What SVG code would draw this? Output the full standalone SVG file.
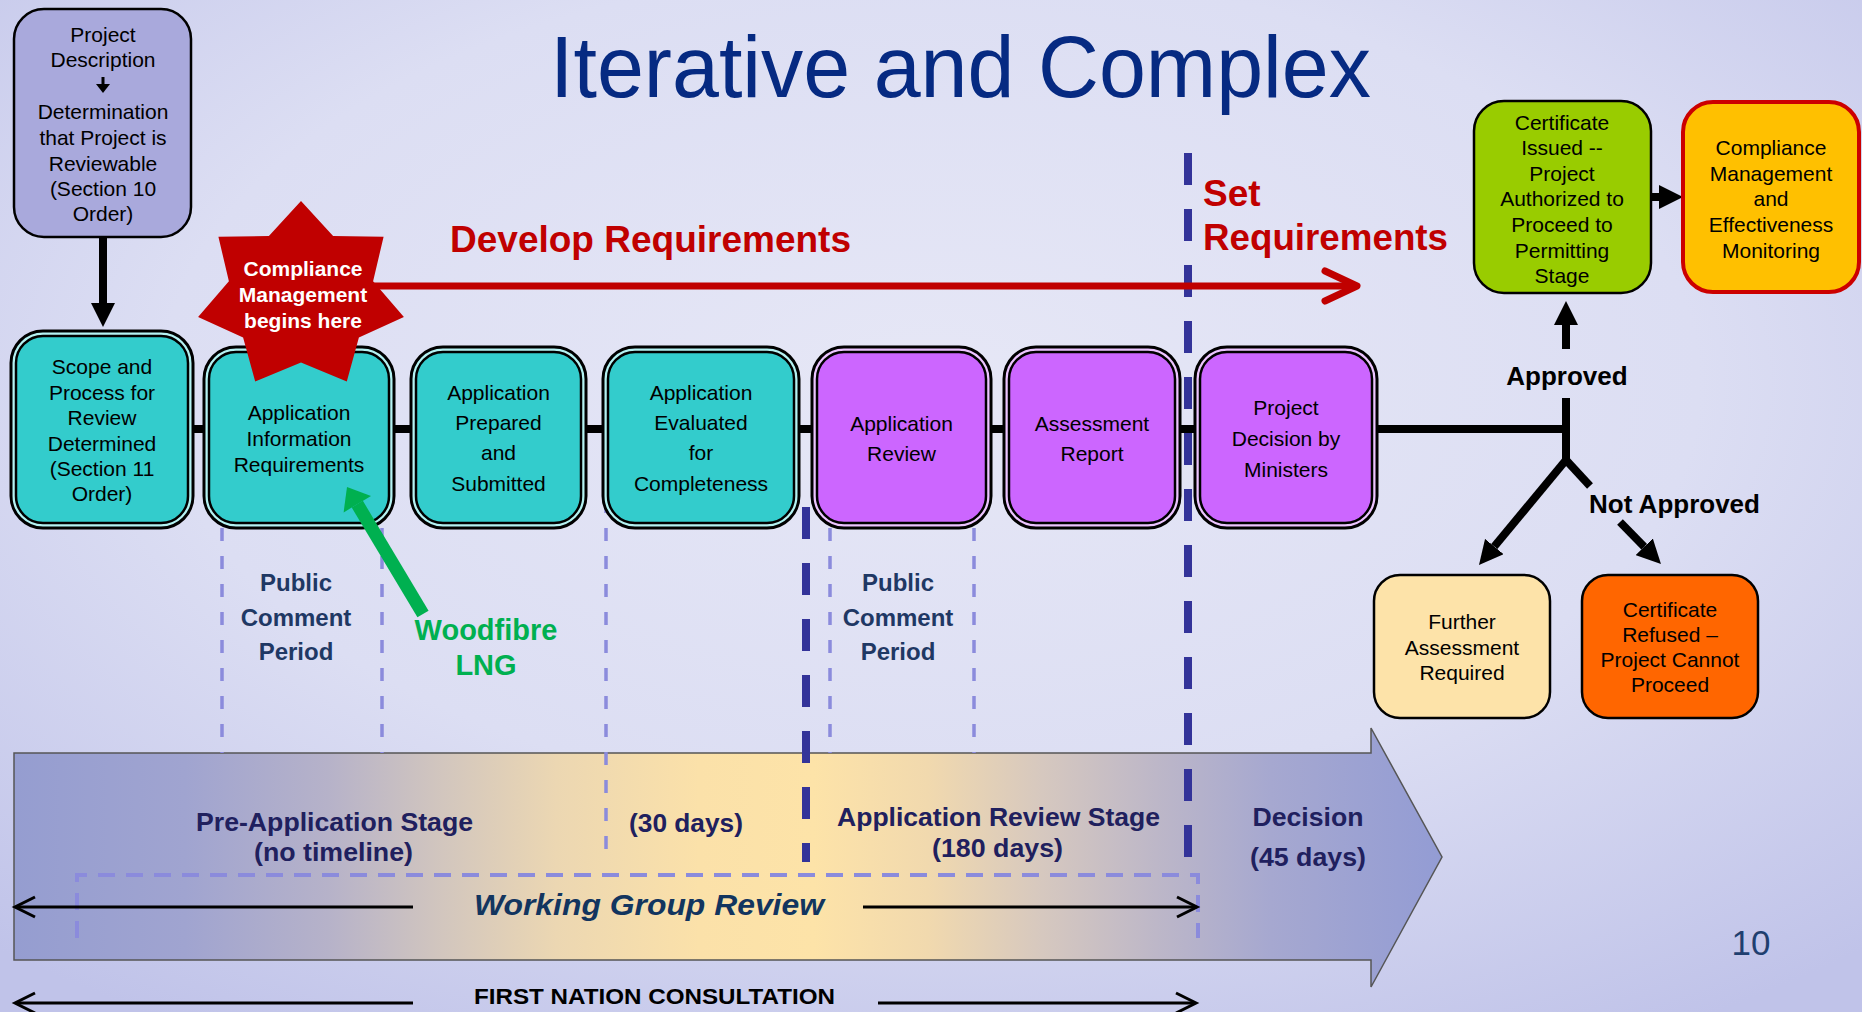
<svg xmlns="http://www.w3.org/2000/svg" width="1862" height="1012" viewBox="0 0 1862 1012">
<defs>
<radialGradient id="bg" cx="0.5" cy="0.38" r="0.75">
<stop offset="0" stop-color="#e6e7f6"/>
<stop offset="0.55" stop-color="#dcdef3"/>
<stop offset="1" stop-color="#c0c3e9"/>
</radialGradient>
<linearGradient id="band" gradientUnits="userSpaceOnUse" x1="14" y1="0" x2="1442" y2="0">
<stop offset="0" stop-color="#959dd0"/>
<stop offset="0.12" stop-color="#a0a4d0"/>
<stop offset="0.22" stop-color="#b6b2c9"/>
<stop offset="0.3" stop-color="#d2c6be"/>
<stop offset="0.38" stop-color="#ecd7b2"/>
<stop offset="0.48" stop-color="#fbe1a9"/>
<stop offset="0.56" stop-color="#fde3a8"/>
<stop offset="0.64" stop-color="#f1d9ae"/>
<stop offset="0.72" stop-color="#d6c8bf"/>
<stop offset="0.8" stop-color="#bdb7c8"/>
<stop offset="0.88" stop-color="#a6a8d0"/>
<stop offset="1" stop-color="#939cd4"/>
</linearGradient>
<marker id="ah" viewBox="0 0 24 24" markerWidth="24" markerHeight="24" refX="0" refY="12" orient="auto" markerUnits="userSpaceOnUse">
<path d="M0,0 L24,12 L0,24 z" fill="#000"/>
</marker>
</defs>
<style>
.f{font-family:"Liberation Sans",Arial,Helvetica,sans-serif}
.bt{font-family:"Liberation Sans",Arial,sans-serif;font-size:21px;fill:#000;text-anchor:middle}
.outer{stroke:#000;stroke-width:3}
.inner{stroke:#000;stroke-width:2.5}
.teal{fill:#33cccc}
.tealr{fill:#b4f2f2}
.purp{fill:#cc66ff}
.purpr{fill:#ecc4ff}
.lite{stroke:#8b8bdc;stroke-width:3.5;stroke-dasharray:13 15;fill:none}
.dark{stroke:#333399;stroke-width:8;stroke-dasharray:32 24;fill:none}
.conn{stroke:#000;stroke-width:8;fill:none}
.thin{stroke:#000;stroke-width:3;fill:none}
.lbl{font-family:"Liberation Sans",Arial,sans-serif;font-weight:bold;font-size:26px;fill:#20205e;text-anchor:middle}
.pcp{font-family:"Liberation Sans",Arial,sans-serif;font-weight:bold;font-size:24px;fill:#1f3864;text-anchor:middle}
.dec{font-family:"Liberation Sans",Arial,sans-serif;font-weight:bold;font-size:26px;fill:#000;text-anchor:middle}
.red{font-family:"Liberation Sans",Arial,sans-serif;font-weight:bold;font-size:37px;fill:#c00000}
</style>

<rect x="0" y="0" width="1862" height="1012" fill="url(#bg)"/>

<text class="f" x="960.5" y="97" font-size="87" fill="#062a82" text-anchor="middle" textLength="821" lengthAdjust="spacingAndGlyphs">Iterative and Complex</text>

<g id="stage-band">
<polygon points="14,753 1371,753 1371,728 1442,857 1371,987 1371,960 14,960" fill="url(#band)" stroke="#555" stroke-width="1.5"/>
<text class="lbl" x="334.5" y="831" textLength="277" lengthAdjust="spacingAndGlyphs">Pre-Application Stage</text>
<text class="lbl" x="333.5" y="861" textLength="159" lengthAdjust="spacingAndGlyphs">(no timeline)</text>
<text class="lbl" x="686" y="832" textLength="114" lengthAdjust="spacingAndGlyphs">(30 days)</text>
<text class="lbl" x="998.5" y="826" textLength="323" lengthAdjust="spacingAndGlyphs">Application Review Stage</text>
<text class="lbl" x="997.5" y="857" textLength="131" lengthAdjust="spacingAndGlyphs">(180 days)</text>
<text class="lbl" x="1308" y="826" textLength="111" lengthAdjust="spacingAndGlyphs">Decision</text>
<text class="lbl" x="1308" y="866" textLength="116" lengthAdjust="spacingAndGlyphs">(45 days)</text>
</g>

<g id="dividers">
<line class="lite" x1="222" y1="528" x2="222" y2="753"/>
<line class="lite" x1="382" y1="528" x2="382" y2="753"/>
<line class="lite" x1="606" y1="500" x2="606" y2="862"/>
<line class="lite" x1="830" y1="528" x2="830" y2="753"/>
<line class="lite" x1="974" y1="528" x2="974" y2="753"/>
<line class="dark" x1="806" y1="507" x2="806" y2="862"/>
<line class="dark" x1="1188" y1="153" x2="1188" y2="858"/>
<path d="M77,938 L77,875 L1198,875 L1198,938" fill="none" stroke="#8b8bdc" stroke-width="4" stroke-dasharray="17 11"/>
</g>

<g id="connectors">
<line class="conn" x1="190" y1="429" x2="1570" y2="429"/>
<line class="conn" x1="1566" y1="398" x2="1566" y2="462"/>
<line class="conn" x1="103" y1="237" x2="103" y2="303" marker-end="url(#ah)"/>
<line class="conn" x1="1566" y1="349" x2="1566" y2="325" marker-end="url(#ah)"/>
<line class="conn" x1="1651" y1="197" x2="1659" y2="197" marker-end="url(#ah)"/>
<line class="conn" x1="1566" y1="460" x2="1494.3" y2="546.5" marker-end="url(#ah)"/>
<line class="conn" x1="1566" y1="460" x2="1590" y2="486"/>
<line class="conn" x1="1620" y1="522" x2="1644.2" y2="546.8" marker-end="url(#ah)"/>
<line x1="360" y1="286" x2="1357" y2="286" stroke="#c00000" stroke-width="7"/>
<polyline points="1325,271 1357,286 1325,301" fill="none" stroke="#c00000" stroke-width="7" stroke-linecap="round" stroke-linejoin="round"/>
<line class="thin" x1="413" y1="907" x2="16" y2="907"/>
<polyline class="thin" points="35,897 15,907 35,917"/>
<line class="thin" x1="863" y1="907" x2="1196" y2="907"/>
<polyline class="thin" points="1177,897 1197,907 1177,917"/>
<line class="thin" x1="413" y1="1003" x2="16" y2="1003"/>
<polyline class="thin" points="35,993 15,1003 35,1013"/>
<line class="thin" x1="878" y1="1003" x2="1195" y2="1003"/>
<polyline class="thin" points="1176,993 1196,1003 1176,1013"/>
</g>

<g id="project-description">
<rect x="14" y="9" width="177" height="228" rx="30" fill="#a9a9dc" stroke="#000" stroke-width="2.5"/>
<text class="bt" x="103" y="41.5">Project</text>
<text class="bt" x="103" y="66.5">Description</text>
<rect x="101.5" y="77" width="3" height="8" fill="#000"/>
<polygon points="96,84 110,84 103,93" fill="#000"/>
<text class="bt" x="103" y="118.5">Determination</text>
<text class="bt" x="103" y="144.5">that Project is</text>
<text class="bt" x="103" y="170.5">Reviewable</text>
<text class="bt" x="103" y="195.5">(Section 10</text>
<text class="bt" x="103" y="220.5">Order)</text>
</g>

<g id="scope">
<rect class="outer tealr" x="11" y="331" width="182" height="197" rx="32"/>
<rect class="inner teal" x="16" y="336" width="172" height="187" rx="27"/>
<text class="bt" x="102" y="374">Scope and</text>
<text class="bt" x="102" y="400">Process for</text>
<text class="bt" x="102" y="425">Review</text>
<text class="bt" x="102" y="451">Determined</text>
<text class="bt" x="102" y="476">(Section 11</text>
<text class="bt" x="102" y="501">Order)</text>
</g>

<g id="app-info">
<rect class="outer tealr" x="204" y="347" width="190" height="181" rx="32"/>
<rect class="inner teal" x="209" y="352" width="180" height="171" rx="27"/>
<text class="bt" x="299" y="420">Application</text>
<text class="bt" x="299" y="446">Information</text>
<text class="bt" x="299" y="472">Requirements</text>
</g>

<g id="app-prepared">
<rect class="outer tealr" x="411" y="347" width="175" height="181" rx="32"/>
<rect class="inner teal" x="416" y="352" width="165" height="171" rx="27"/>
<text class="bt" x="498.5" y="400">Application</text>
<text class="bt" x="498.5" y="430">Prepared</text>
<text class="bt" x="498.5" y="460">and</text>
<text class="bt" x="498.5" y="491">Submitted</text>
</g>

<g id="app-evaluated">
<rect class="outer tealr" x="603" y="347" width="196" height="181" rx="32"/>
<rect class="inner teal" x="608" y="352" width="186" height="171" rx="27"/>
<text class="bt" x="701" y="400">Application</text>
<text class="bt" x="701" y="430">Evaluated</text>
<text class="bt" x="701" y="460">for</text>
<text class="bt" x="701" y="491">Completeness</text>
</g>

<g id="app-review">
<rect class="outer purpr" x="812" y="347" width="179" height="181" rx="32"/>
<rect class="inner purp" x="817" y="352" width="169" height="171" rx="27"/>
<text class="bt" x="901.5" y="431">Application</text>
<text class="bt" x="901.5" y="461">Review</text>
</g>

<g id="assessment-report">
<rect class="outer purpr" x="1004" y="347" width="176" height="181" rx="32"/>
<rect class="inner purp" x="1009" y="352" width="166" height="171" rx="27"/>
<text class="bt" x="1092" y="431">Assessment</text>
<text class="bt" x="1092" y="461">Report</text>
</g>

<g id="project-decision">
<rect class="outer purpr" x="1195" y="347" width="182" height="181" rx="32"/>
<rect class="inner purp" x="1200" y="352" width="172" height="171" rx="27"/>
<text class="bt" x="1286" y="415">Project</text>
<text class="bt" x="1286" y="446">Decision by</text>
<text class="bt" x="1286" y="477">Ministers</text>
</g>

<g id="compliance-star">
<polygon points="301,201 333.1,236.1 383.6,236.8 373.1,281.2 403.9,317.1 358.9,337.5 346.8,381.6 301,362.5 255.2,381.6 243.1,337.5 198.1,317.1 228.9,281.2 218.4,236.8 268.9,236.1" fill="#c00000"/>
<text class="f" x="303" y="276" font-size="21" font-weight="bold" fill="#fff" text-anchor="middle">Compliance</text>
<text class="f" x="303" y="302" font-size="21" font-weight="bold" fill="#fff" text-anchor="middle">Management</text>
<text class="f" x="303" y="328" font-size="21" font-weight="bold" fill="#fff" text-anchor="middle">begins here</text>
</g>

<g id="certificate-issued">
<rect x="1474" y="101" width="177" height="192" rx="30" fill="#99cc00" stroke="#000" stroke-width="2.5"/>
<text class="bt" x="1562" y="129.5">Certificate</text>
<text class="bt" x="1562" y="154.5">Issued --</text>
<text class="bt" x="1562" y="180.5">Project</text>
<text class="bt" x="1562" y="205.5">Authorized to</text>
<text class="bt" x="1562" y="231.5">Proceed to</text>
<text class="bt" x="1562" y="257.5">Permitting</text>
<text class="bt" x="1562" y="282.5">Stage</text>
</g>

<g id="compliance-monitoring">
<rect x="1683" y="102" width="176" height="190" rx="30" fill="#ffc000" stroke="#cc0000" stroke-width="4"/>
<text class="bt" x="1771" y="154.5">Compliance</text>
<text class="bt" x="1771" y="180.5">Management</text>
<text class="bt" x="1771" y="205.5">and</text>
<text class="bt" x="1771" y="231.5">Effectiveness</text>
<text class="bt" x="1771" y="257.5">Monitoring</text>
</g>

<g id="further-assessment">
<rect x="1374" y="575" width="176" height="143" rx="26" fill="#fde3a9" stroke="#000" stroke-width="2.5"/>
<text class="bt" x="1462" y="628.5">Further</text>
<text class="bt" x="1462" y="654.5">Assessment</text>
<text class="bt" x="1462" y="679.5">Required</text>
</g>

<g id="certificate-refused">
<rect x="1582" y="575" width="176" height="143" rx="26" fill="#ff6600" stroke="#000" stroke-width="2.5"/>
<text class="bt" x="1670" y="616.5">Certificate</text>
<text class="bt" x="1670" y="641.5">Refused –</text>
<text class="bt" x="1670" y="666.5">Project Cannot</text>
<text class="bt" x="1670" y="691.5">Proceed</text>
</g>

<g id="labels">
<text class="red" x="450" y="252" textLength="401" lengthAdjust="spacingAndGlyphs">Develop Requirements</text>
<text class="red" x="1203" y="206" font-size="36">Set</text>
<text class="red" x="1203" y="250" font-size="36" textLength="245" lengthAdjust="spacingAndGlyphs">Requirements</text>
<text class="dec" x="1567" y="385">Approved</text>
<text class="dec" x="1674.5" y="513">Not Approved</text>
<text class="pcp" x="296" y="591">Public</text>
<text class="pcp" x="296" y="626">Comment</text>
<text class="pcp" x="296" y="660">Period</text>
<text class="pcp" x="898" y="591">Public</text>
<text class="pcp" x="898" y="626">Comment</text>
<text class="pcp" x="898" y="660">Period</text>
<text class="f" x="486" y="640" font-size="29" font-weight="bold" fill="#00b050" text-anchor="middle">Woodfibre</text>
<text class="f" x="486" y="675" font-size="29" font-weight="bold" fill="#00b050" text-anchor="middle">LNG</text>
<text class="f" x="649" y="915" font-size="30" font-weight="bold" font-style="italic" fill="#12355f" text-anchor="middle" textLength="350" lengthAdjust="spacingAndGlyphs">Working Group Review</text>
<text class="f" x="654.5" y="1004" font-size="22" font-weight="bold" fill="#000" text-anchor="middle" textLength="361" lengthAdjust="spacingAndGlyphs">FIRST NATION CONSULTATION</text>
<text class="f" x="1751" y="955" font-size="35" fill="#1f3f6f" text-anchor="middle">10</text>
</g>

<g id="woodfibre-arrow">
<line x1="423" y1="614" x2="357.3" y2="504.2" stroke="#00b050" stroke-width="13"/>
<polygon points="347,487 371,496 343.6,512.4" fill="#00b050"/>
</g>
</svg>
